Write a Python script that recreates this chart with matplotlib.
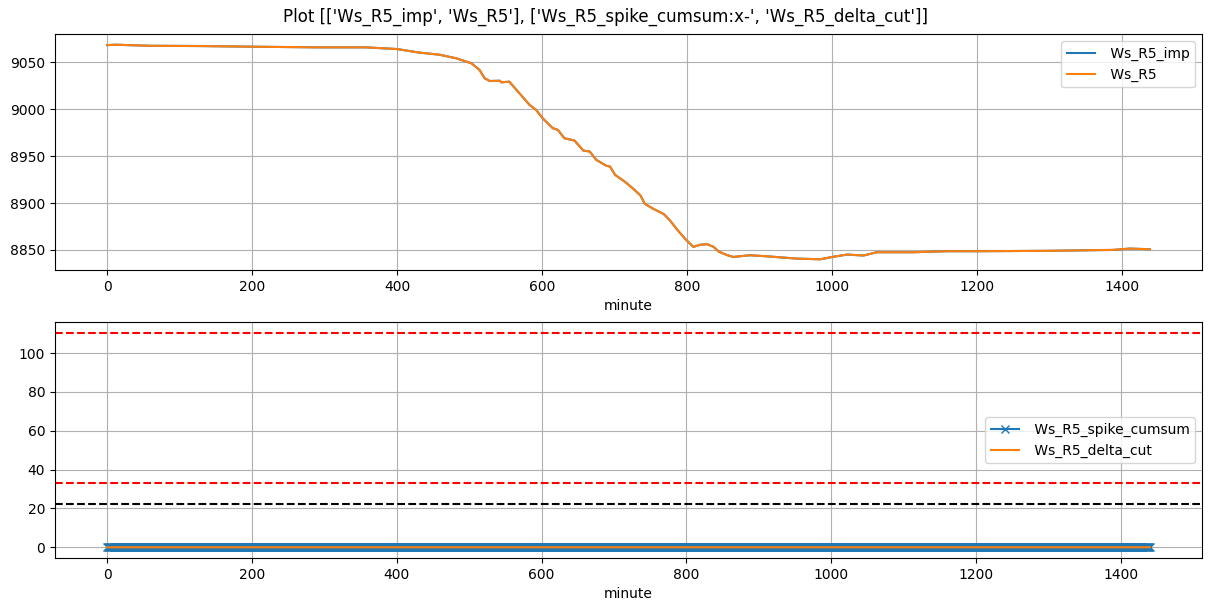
import matplotlib
matplotlib.use('Agg')
import matplotlib.pyplot as plt
import numpy as np

# readings of Ws_R5 off the reference (minute, value)
MINUTES = [0, 12, 58, 127, 200, 289, 357, 400, 430, 459, 482, 503, 514, 521, 528,
           542, 544, 555, 569, 583, 592, 601, 615, 622, 631, 645, 657, 666, 675,
           689, 694, 701, 715, 726, 736, 742, 754, 768, 777, 786, 798, 809, 818,
           828, 837, 844, 855, 864, 887, 910, 933, 952, 984, 1001, 1021, 1044,
           1062, 1113, 1159, 1205, 1297, 1389, 1411, 1439]
WS_R5 = [9068.4, 9068.8, 9067.7, 9067.4, 9066.7, 9066.0, 9066.0, 9064.2, 9060.5,
         9058.1, 9054.3, 9048.9, 9041.8, 9033.0, 9030.1, 9030.4, 9028.7, 9029.4,
         9017.0, 9004.6, 8999.3, 8990.4, 8979.8, 8978.0, 8969.1, 8966.6, 8956.0,
         8954.9, 8946.0, 8939.7, 8938.9, 8930.0, 8922.4, 8915.2, 8908.1, 8899.1,
         8893.7, 8888.3, 8881.2, 8872.2, 8861.5, 8853.2, 8855.4, 8856.1, 8853.2,
         8848.2, 8844.6, 8842.5, 8844.3, 8843.2, 8841.8, 8840.7, 8840.0, 8842.5,
         8845.0, 8844.0, 8847.5, 8847.5, 8848.6, 8848.6, 8849.0, 8850.0, 8851.4,
         8850.7]
WS_R5_IMP = WS_R5  # identical, hidden beneath Ws_R5

# bottom panel: both series sit at zero for every minute
SPIKE_MINUTES = np.arange(0, 1441)
SPIKE_CUMSUM = np.zeros(len(SPIKE_MINUTES))
DELTA_CUT = np.zeros(len(SPIKE_MINUTES))

THRESH_RED = [110.5, 33]
THRESH_BLACK = [22.3]

TITLE = "Plot [['Ws_R5_imp', 'Ws_R5'], ['Ws_R5_spike_cumsum:x-', 'Ws_R5_delta_cut']]"

W, H = 1211, 611
fig, (ax1, ax2) = plt.subplots(2, 1, figsize=(W / 100, H / 100), dpi=100)
# axes edges in pixels: left 55, right 1202, top 34, bottom 558, gap 52
fig.subplots_adjust(left=55 / W, right=1202 / W, top=1 - 34 / H, bottom=1 - 558 / H,
                    hspace=52 / 236)
fig.suptitle(TITLE, y=1 - 8 / H)

ax1.plot(MINUTES, WS_R5_IMP, label=' Ws_R5_imp')
ax1.plot(MINUTES, WS_R5, label=' Ws_R5')
ax1.set_xlabel('minute')
ax1.grid(True)
ax1.legend(loc='upper right')

ax2.plot(SPIKE_MINUTES, SPIKE_CUMSUM, 'x-', label=' Ws_R5_spike_cumsum')
ax2.plot(SPIKE_MINUTES, DELTA_CUT, label=' Ws_R5_delta_cut')
for v in THRESH_RED:
    ax2.axhline(v, color='red', linestyle='--')
for v in THRESH_BLACK:
    ax2.axhline(v, color='black', linestyle='--')
ax2.set_xlabel('minute')
ax2.grid(True)
ax2.legend(loc='center right')

fig.savefig('out.png')
